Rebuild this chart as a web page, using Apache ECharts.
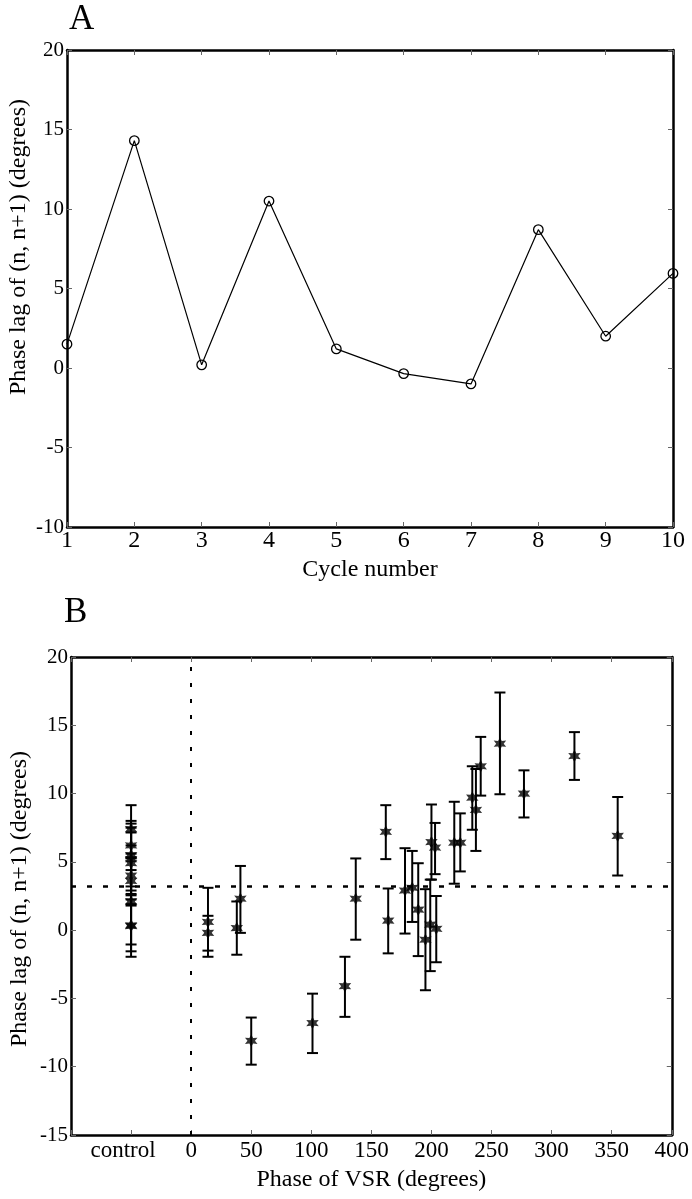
<!DOCTYPE html>
<html>
<head>
<meta charset="utf-8">
<script src="https://cdn.jsdelivr.net/npm/echarts@6/dist/echarts.min.js"></script>
<style>
html,body{margin:0;padding:0;background:#fff;}
#chart{width:692px;height:1199px;}
</style>
</head>
<body>
<div id="chart"></div>
<script>
// ---------- Panel A data ----------
var cycleNumbers = [1, 2, 3, 4, 5, 6, 7, 8, 9, 10];
var phaseLagA = [1.5, 14.3, 0.2, 10.5, 1.2, -0.35, -1.0, 8.7, 2.0, 5.95];

// ---------- Panel B data (control plotted at x = -50) ----------
var phaseVSR = [-50, -50, -50, -50, -50, -50, -50, -50, -50, -50,
  14, 14, 38, 41, 50, 101, 128, 137, 162, 164, 178, 184, 189, 195, 199, 200, 203, 204,
  219, 224, 234, 237, 241, 257, 277, 319, 355];
var lagMean = [7.4, 6.2, 5.5, 5.2, 4.9, 4.0, 3.6, 2.1, 0.35, 0.3,
  0.6, -0.2, 0.15, 2.3, -8.1, -6.8, -4.1, 2.3, 7.2, 0.7, 2.9, 3.1, 1.5, -0.7, 0.4, 6.45, 6.05, 0.1,
  6.4, 6.4, 9.7, 8.8, 12.0, 13.65, 10.0, 12.75, 6.9];
var lagLow = [5.6, 4.4, 3.2, 2.9, 2.65, 1.8, 1.9, -1.05, -1.55, -1.95,
  -1.95, -1.5, -1.8, -0.2, -9.85, -9.0, -6.35, -0.7, 5.2, -1.7, -0.25, 0.6, -1.9, -4.4, -3.0, 3.7, 4.1, -2.35,
  3.4, 4.3, 7.35, 5.8, 9.85, 9.95, 8.25, 11.0, 4.0];
var lagHigh = [9.15, 8.0, 7.8, 7.5, 7.15, 6.2, 5.3, 5.25, 2.25, 2.55,
  3.1, 1.05, 2.1, 4.7, -6.4, -4.65, -1.95, 5.25, 9.15, 3.05, 6.0, 5.8, 4.9, 3.0, 3.7, 9.2, 7.85, 2.5,
  9.4, 8.55, 12.0, 11.8, 14.15, 17.4, 11.7, 14.5, 9.75];
var controlLevel = 3.2;
var xTickLabelsB = {'-100': '', '-50': '{c|control}'};

// ---------- helpers ----------
var FONT = 'Liberation Serif';
var lineData = cycleNumbers.map(function (c, i) { return [c, phaseLagA[i]]; });
var errData = phaseVSR.map(function (x, i) { return [x, lagMean[i], lagLow[i], lagHigh[i]]; });
var ptData = phaseVSR.map(function (x, i) { return [x, lagMean[i]]; });

var tick = {show: true, inside: true, length: 5, lineStyle: {color: '#666', width: 1}};
function frameAxis(extra) {
  var base = {
    type: 'value',
    axisLine: {show: true, onZero: false, lineStyle: {color: '#000', width: 2.5}},
    axisTick: tick,
    splitLine: {show: false},
    axisLabel: {color: '#000', fontFamily: FONT, fontSize: 21, margin: 3}
  };
  for (var k in extra) base[k] = extra[k];
  return base;
}

var starPath = 'path://M0,-10 L2.6,-4.5 L8.7,-5 L5.2,0 L8.7,5 L2.6,4.5 L0,10 L-2.6,4.5 L-8.7,5 L-5.2,0 L-8.7,-5 L-2.6,-4.5 Z';

var chart = echarts.init(document.getElementById('chart'), null, {renderer: 'canvas'});
var option = {
  backgroundColor: '#fff',
  animation: false,
  grid: [
    {left: 67, right: 19, top: 50, bottom: 672},
    {left: 71, right: 19, top: 657, bottom: 64}
  ],
  xAxis: [
    frameAxis({gridIndex: 0, min: 1, max: 10, interval: 1, position: 'bottom',
      axisLabel: {color: '#000', fontFamily: FONT, fontSize: 24, margin: 2, showMinLabel: true, showMaxLabel: true},
      name: 'Cycle number', nameLocation: 'middle', nameGap: 31,
      nameTextStyle: {color: '#000', fontFamily: FONT, fontSize: 24}}),
    frameAxis({gridIndex: 0, min: 1, max: 10, interval: 1, position: 'top', axisLabel: {show: false}}),
    frameAxis({gridIndex: 1, min: -100, max: 400, interval: 50, position: 'bottom',
      axisLabel: {color: '#000', fontFamily: FONT, fontSize: 23, margin: 4, showMinLabel: true, showMaxLabel: true,
        rich: {c: {color: '#000', fontFamily: FONT, fontSize: 23, padding: [0, 16, 0, 0]}},
        formatter: function (v) { var k = String(v); return (k in xTickLabelsB) ? xTickLabelsB[k] : k; }},
      name: 'Phase of VSR (degrees)', nameLocation: 'middle', nameGap: 33,
      nameTextStyle: {color: '#000', fontFamily: FONT, fontSize: 24}}),
    frameAxis({gridIndex: 1, min: -100, max: 400, interval: 50, position: 'top', axisLabel: {show: false}})
  ],
  yAxis: [
    frameAxis({gridIndex: 0, min: -10, max: 20, interval: 5, position: 'left'}),
    frameAxis({gridIndex: 0, min: -10, max: 20, interval: 5, position: 'right', axisLabel: {show: false}}),
    frameAxis({gridIndex: 1, min: -15, max: 20, interval: 5, position: 'left'}),
    frameAxis({gridIndex: 1, min: -15, max: 20, interval: 5, position: 'right', axisLabel: {show: false}})
  ],
  graphic: [
    {type: 'text', x: 69, y: 20, style: {text: 'A', font: '35px "Liberation Serif"', fill: '#000', textAlign: 'left', textVerticalAlign: 'middle'}},
    {type: 'text', x: 64, y: 613, style: {text: 'B', font: '35px "Liberation Serif"', fill: '#000', textAlign: 'left', textVerticalAlign: 'middle'}},
    {type: 'text', x: 19, y: 247, rotation: Math.PI / 2,
      style: {text: 'Phase lag of (n, n+1) (degrees)', font: '24px "Liberation Serif"', fill: '#000', textAlign: 'center', textVerticalAlign: 'middle'}},
    {type: 'text', x: 20, y: 899, rotation: Math.PI / 2,
      style: {text: 'Phase lag of (n, n+1) (degrees)', font: '24px "Liberation Serif"', fill: '#000', textAlign: 'center', textVerticalAlign: 'middle'}}
  ],
  series: [
    {
      type: 'line', xAxisIndex: 0, yAxisIndex: 0, data: lineData,
      symbol: 'circle', symbolSize: 9.5,
      lineStyle: {color: '#000', width: 1.2},
      itemStyle: {color: 'rgba(255,255,255,0)', borderColor: '#000', borderWidth: 1.3},
      z: 3
    },
    {
      type: 'custom', xAxisIndex: 2, yAxisIndex: 2, data: errData,
      renderItem: function (params, api) {
        var x = api.value(0);
        var lo = api.coord([x, api.value(2)]);
        var hi = api.coord([x, api.value(3)]);
        var hw = 5.5;
        var st = {stroke: '#000', lineWidth: 2};
        return {type: 'group', children: [
          {type: 'line', shape: {x1: lo[0], y1: lo[1], x2: hi[0], y2: hi[1]}, style: st},
          {type: 'line', shape: {x1: hi[0] - hw, y1: hi[1], x2: hi[0] + hw, y2: hi[1]}, style: st},
          {type: 'line', shape: {x1: lo[0] - hw, y1: lo[1], x2: lo[0] + hw, y2: lo[1]}, style: st}
        ]};
      },
      z: 3
    },
    {
      type: 'scatter', xAxisIndex: 2, yAxisIndex: 2, data: ptData,
      symbol: starPath, symbolSize: 12.5,
      itemStyle: {color: '#000'},
      z: 4,
      markLine: {
        silent: true, symbol: 'none', label: {show: false},
        data: [
          {yAxis: controlLevel, lineStyle: {color: '#000', width: 2.5, type: [5, 11]}},
          {xAxis: 0, lineStyle: {color: '#000', width: 2, type: [4, 12]}}
        ]
      }
    }
  ]
};
chart.setOption(option);
</script>
</body>
</html>
